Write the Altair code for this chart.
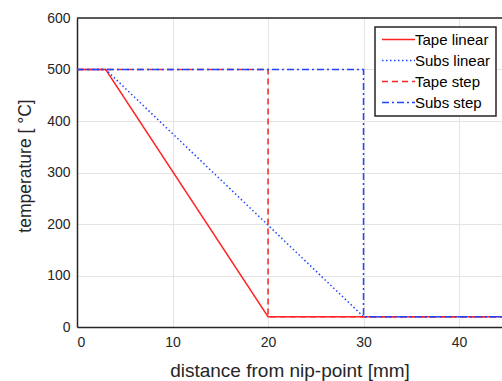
import altair as alt
import pandas as pd

series = ["Tape linear", "Subs linear", "Tape step", "Subs step"]
x_tape_linear = [0, 3, 20, 50]
y_tape_linear = [500, 500, 20, 20]
x_subs_linear = [0, 3, 30, 50]
y_subs_linear = [500, 500, 20, 20]
x_tape_step = [0, 20, 20, 50]
y_tape_step = [500, 500, 20, 20]
x_subs_step = [0, 30, 30, 50]
y_subs_step = [500, 500, 20, 20]

xy = [
    (x_tape_linear, y_tape_linear),
    (x_subs_linear, y_subs_linear),
    (x_tape_step, y_tape_step),
    (x_subs_step, y_subs_step),
]
rows = []
for s, (xs, ys) in zip(series, xy):
    for i, (x, y) in enumerate(zip(xs, ys)):
        rows.append({"series": s, "x": x, "y": y, "i": i})
df = pd.DataFrame(rows)

colors = ["#ff2222", "#1f44ff", "#ff2222", "#1f44ff"]
dashes = [[1, 0], [1.5, 2.5], [6, 4], [7, 3, 2, 3]]

FONT = "Liberation Sans"
TXT = "#262626"

legend_props = dict(
    title=None,
    orient="none",
    legendX=298,
    legendY=9,
    strokeColor=TXT,
    fillColor="white",
    padding=5,
    symbolType="M-1,0H5",
    symbolSize=121,
    symbolStrokeWidth=1.5,
    labelFont=FONT,
    labelFontSize=15,
    labelColor="black",
    labelOffset=20,
    rowPadding=5,
)

lines = alt.Chart(df).mark_line(strokeWidth=1.5, clip=True).encode(
    x=alt.X(
        "x:Q",
        scale=alt.Scale(domain=[0, 44.5], nice=False),
        axis=alt.Axis(
            values=[0, 10, 20, 30, 40],
            title="distance from nip-point [mm]",
            labelPadding=8,
            titleFontSize=19,
            titleY=49,
            titleBaseline="alphabetic",
        ),
    ),
    y=alt.Y(
        "y:Q",
        scale=alt.Scale(domain=[0, 600], nice=False),
        axis=alt.Axis(
            values=[0, 100, 200, 300, 400, 500, 600],
            title="temperature [ °C]",
            labelPadding=7,
            titleFontSize=17.5,
            titleX=-47,
            titleY=147.5,
            titleAlign="center",
            titleBaseline="alphabetic",
            titleAngle=270,
        ),
    ),
    color=alt.Color(
        "series:N",
        scale=alt.Scale(domain=series, range=colors),
        legend=alt.Legend(**legend_props),
    ),
    strokeDash=alt.StrokeDash(
        "series:N",
        scale=alt.Scale(domain=series, range=dashes),
        legend=alt.Legend(**legend_props),
    ),
    order=alt.Order("i:Q"),
)

top = alt.Chart(pd.DataFrame({"y": [600]})).mark_rule(
    color=TXT, strokeWidth=1.5
).encode(y="y:Q")

chart = (
    alt.layer(lines, top)
    .properties(
        width=425,
        height=309,
        padding={"left": 77, "top": 18, "right": 0, "bottom": 54},
        autosize=alt.AutoSizeParams(type="none"),
    )
    .configure_view(stroke=None)
    .configure_axis(
        domainColor=TXT,
        domainWidth=1.5,
        grid=True,
        gridColor="#e4e4e4",
        gridWidth=1,
        ticks=False,
        tickSize=0,
        labelFont=FONT,
        labelFontSize=14,
        labelColor=TXT,
        titleFont=FONT,
        titleFontWeight="normal",
        titleColor=TXT,
    )
    .configure_legend(strokeWidth=1.5)
)

chart.save("out.html", embed_options={"renderer": "svg", "actions": False})
